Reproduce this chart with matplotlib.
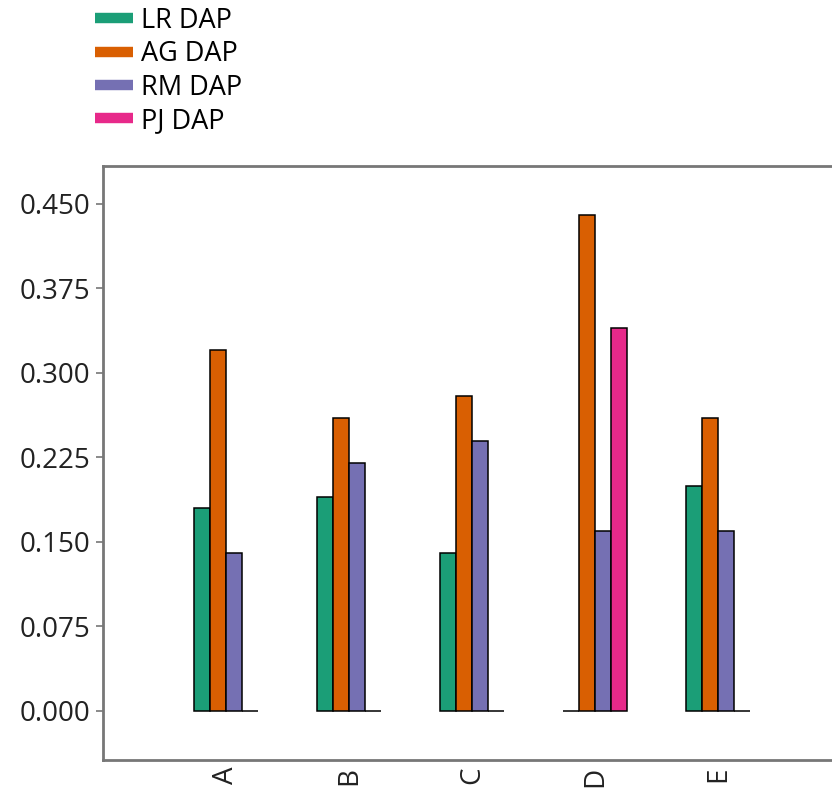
import numpy as np
import matplotlib
matplotlib.use("Agg")
import matplotlib.pyplot as plt
from matplotlib.lines import Line2D

# Data
categories = ["A", "B", "C", "D", "E"]
series_names = ["LR DAP", "AG DAP", "RM DAP", "PJ DAP"]
lr_dap = [0.18, 0.19, 0.14, 0.0, 0.20]
ag_dap = [0.32, 0.26, 0.28, 0.44, 0.26]
rm_dap = [0.14, 0.22, 0.24, 0.16, 0.16]
pj_dap = [0.0, 0.0, 0.0, 0.34, 0.0]
y_ticks = [0.0, 0.075, 0.15, 0.225, 0.30, 0.375, 0.45]

colors = ["#1b9e77", "#d95f02", "#7570b3", "#e7298a"]

plt.rcParams["font.family"] = ["Open Sans", "DejaVu Sans"]

fig = plt.figure(figsize=(8.32, 7.92), dpi=100)
ax = fig.add_axes([103 / 832, 32 / 792, 738 / 832, 594 / 792])

x = np.arange(len(categories))
bar_w = 0.13
all_series = [lr_dap, ag_dap, rm_dap, pj_dap]
for i, vals in enumerate(all_series):
    offs = (i - 1.5) * bar_w
    ax.bar(x + offs, vals, width=bar_w, color=colors[i],
           edgecolor="black", linewidth=1.1, zorder=3)

ax.set_xlim(-1, 5)
ax.set_ylim(-0.0435, 0.4837)
ax.set_yticks(y_ticks)
ax.set_yticklabels([f"{v:.3f}" for v in y_ticks])
ax.set_xticks(x)
ax.set_xticklabels(categories, rotation=90)

ax.tick_params(axis="y", length=5, width=1.2, color="#777777",
               labelsize=20, labelcolor="#222222", pad=4)
ax.tick_params(axis="x", length=0, labelsize=20, labelcolor="#222222", pad=5)

for side in ["left", "top", "bottom"]:
    ax.spines[side].set_color("#777777")
    ax.spines[side].set_linewidth(2.0)
ax.spines["right"].set_visible(False)

handles = [Line2D([0], [0], color=c, lw=7.5, solid_capstyle="butt") for c in colors]
fig.legend(handles, series_names, loc="upper left",
           bbox_to_anchor=(92 / 832, 1 - 4 / 792), frameon=False,
           fontsize=19.5, handlelength=1.4, handletextpad=0.3,
           labelspacing=0.2, borderaxespad=0, borderpad=0.1)

fig.savefig("out.png", dpi=100)
